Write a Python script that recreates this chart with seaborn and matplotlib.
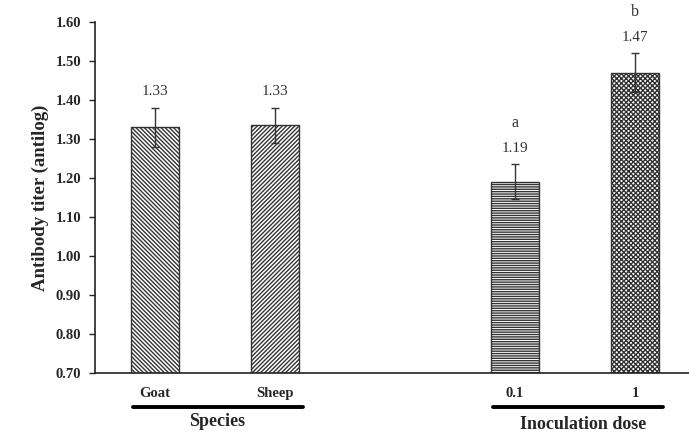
import pandas as pd
import numpy as np
import matplotlib
matplotlib.use("Agg")
import matplotlib.pyplot as plt
import seaborn as sns

# Data
categories = ["Goat", "Sheep", "", "0.1", "1"]
titer = [1.33, 1.335, np.nan, 1.19, 1.47]
errors = [0.05, 0.045, np.nan, 0.045, 0.05]
value_labels = ["1.33", "1.33", "", "1.19", "1.47"]
letters = ["", "", "", "a", "b"]
hatches = ["\\" * 8, "/" * 8, "", "-" * 7, "x" * 7]

df = pd.DataFrame({"group": categories, "titer": titer})

sns.set_style("white")
plt.rcParams["font.family"] = ["Liberation Serif", "DejaVu Serif"]
plt.rcParams["hatch.linewidth"] = 1.0

fig = plt.figure(figsize=(6.89, 4.33), dpi=100)
ax = fig.add_axes([0.138, 0.139, 0.862, 0.810])

sns.barplot(data=df, x="group", y="titer", order=categories, color="white",
            edgecolor="#333333", linewidth=1.0, width=0.40, errorbar=None, ax=ax)

for patch, h in zip(ax.patches, [h for v, h in zip(titer, hatches) if not np.isnan(v)]):
    patch.set_hatch(h)

# error bars
for i, (v, e) in enumerate(zip(titer, errors)):
    if np.isnan(v):
        continue
    ax.errorbar(i, v, yerr=e, fmt="none", ecolor="#333333", elinewidth=1.0,
                capsize=3, capthick=1.0)
    ax.text(i, v + e + 0.025, value_labels[i], ha="center", va="bottom",
            fontsize=11, color="#333333")
    if letters[i]:
        ax.text(i, v + e + 0.085, letters[i], ha="center", va="bottom",
                fontsize=11.5, color="#333333")

ax.set_ylim(0.70, 1.60)
ax.set_xlim(-0.5, 4.45)
ax.set_yticks(np.arange(0.70, 1.601, 0.10))
ax.set_yticklabels([f"{t:.2f}" for t in np.arange(0.70, 1.601, 0.10)],
                   fontweight="bold", fontsize=10.5)
ax.set_ylabel("Antibody titer (antilog)", fontsize=13.5, fontweight="bold",
              labelpad=5)
ax.set_xlabel("")

ax.set_xticks([0, 1, 2, 3, 4])
ax.set_xticklabels(categories, fontweight="bold", fontsize=10.5)
ax.tick_params(axis="x", length=0, pad=10)
ax.set_xticks([0.5, 1.5, 2.5, 3.5], minor=True)
ax.tick_params(axis="x", which="minor", length=4, width=1.0, direction="out",
               color="#222222")
ax.tick_params(axis="y", length=4, width=1.0, direction="out", color="#222222",
               left=True, pad=6)

sns.despine(ax=ax, top=True, right=True)
for s in ["left", "bottom"]:
    ax.spines[s].set_color("#222222")
    ax.spines[s].set_linewidth(1.2)

# group brackets below the axis
trans = ax.get_xaxis_transform()
ax.plot([-0.18, 1.23], [-0.097, -0.097], color="black", lw=2.8,
        transform=trans, clip_on=False)
ax.plot([2.82, 4.23], [-0.097, -0.097], color="black", lw=2.8,
        transform=trans, clip_on=False)
ax.text(0.52, -0.14, "Species", transform=trans, ha="center", va="center",
        fontsize=13, fontweight="bold")
ax.text(3.57, -0.147, "Inoculation dose", transform=trans, ha="center",
        va="center", fontsize=13, fontweight="bold")

fig.savefig("out.png", dpi=100)
